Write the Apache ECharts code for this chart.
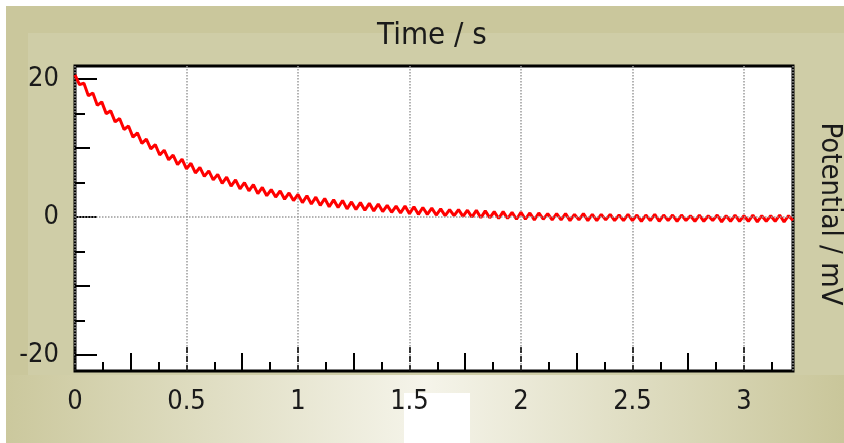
<!DOCTYPE html>
<html>
<head>
<meta charset="utf-8">
<style>
  html, body { margin: 0; padding: 0; background: #fff; }
  #chart { width: 844px; height: 443px; }
</style>
<script src="https://cdn.jsdelivr.net/npm/echarts@6/dist/echarts.min.js"></script>
</head>
<body>
<div id="chart"></div>
<script>
// sampled signal, one value every 0.02 s starting at t = 0
var sampleStep = 0.02;
var potential = [
  20.6, 19.2, 19.4, 17.6, 18.0, 16.2, 16.7, 15.0, 15.4, 13.8,
  14.3, 12.7, 13.2, 11.6, 12.2, 10.7, 11.3, 9.9, 10.5, 9.0,
  9.7, 8.3, 9.0, 7.6, 8.4, 7.0, 7.8, 6.4, 7.2, 5.9,
  6.7, 5.4, 6.2, 4.9, 5.8, 4.5, 5.4, 4.1, 5.0, 3.8,
  4.7, 3.4, 4.3, 3.1, 4.0, 2.9, 3.8, 2.6, 3.5, 2.4,
  3.3, 2.1, 3.1, 1.9, 2.9, 1.7, 2.7, 1.5, 2.5, 1.4,
  2.4, 1.2, 2.2, 1.1, 2.1, 1.0, 2.0, 0.9, 1.9, 0.8,
  1.7, 0.7, 1.6, 0.6, 1.6, 0.5, 1.5, 0.4, 1.4, 0.4,
  1.3, 0.3, 1.2, 0.2, 1.1, 0.2, 1.1, 0.1, 1.0, 0.0,
  1.0, -0.1, 0.9, -0.1, 0.8, -0.2, 0.8, -0.2, 0.7, -0.3,
  0.7, -0.3, 0.6, -0.4, 0.6, -0.3, 0.5, -0.4, 0.5, -0.4,
  0.5, -0.5, 0.4, -0.4, 0.5, -0.5, 0.4, -0.5, 0.4, -0.4,
  0.4, -0.5, 0.3, -0.5, 0.4, -0.5, 0.3, -0.6, 0.3, -0.5,
  0.4, -0.6, 0.3, -0.5, 0.3, -0.6, 0.3, -0.5, 0.2, -0.6,
  0.3, -0.6, 0.2, -0.5, 0.3, -0.7, 0.2, -0.6, 0.3, -0.6,
  0.2, -0.6, 0.3, -0.7, 0.2, -0.6, 0.2, -0.6, 0.3, -0.7,
  0.2, -0.5
];

var xQuarterTicks = [0.25, 0.75, 1.25, 1.75, 2.25, 2.75];
var xEighthTicks = [0.125, 0.375, 0.625, 0.875, 1.125, 1.375, 1.625, 1.875,
                    2.125, 2.375, 2.625, 2.875, 3.125];
var yLabelTicks = [-20, 0, 20];
var yTenTicks = [-10, 10];
var yFiveTicks = [-15, -5, 5, 15];

var seriesData = [];
potential.forEach(function (v, i) {
  seriesData.push([+(i * sampleStep).toFixed(2), v]);
});

var olive = '#cac79c';
var font = '"Liberation Sans Narrow", "DejaVu Sans Condensed", "Liberation Sans", sans-serif';
var xMin = 0, xMax = 3.22, yMin = -22.3, yMax = 21.9;

function xAx(extra) {
  return Object.assign({
    type: 'value', position: 'bottom', min: xMin, max: xMax,
    axisLine: { show: false, onZero: false }, splitLine: { show: false },
    axisLabel: { show: false }
  }, extra);
}
function yAx(extra) {
  return Object.assign({
    type: 'value', position: 'left', min: yMin, max: yMax,
    axisLine: { show: false, onZero: false }, splitLine: { show: false },
    axisLabel: { show: false }
  }, extra);
}

var chart = echarts.init(document.getElementById('chart'));
chart.setOption({
  backgroundColor: olive,
  animation: false,
  graphic: [
    { type: 'rect', z: -10, shape: { x: 0, y: 0, width: 844, height: 6 }, style: { fill: '#ffffff' } },
    { type: 'rect', z: -10, shape: { x: 0, y: 0, width: 6, height: 443 }, style: { fill: '#ffffff' } },
    { type: 'rect', z: -9, shape: { x: 28, y: 33, width: 816, height: 342 }, style: { fill: '#cfcda7' } },
    {
      type: 'rect', z: -9, shape: { x: 6, y: 375, width: 838, height: 68 },
      style: {
        fill: new echarts.graphic.LinearGradient(0, 0, 1, 0, [
          { offset: 0, color: '#cbc89d' },
          { offset: 0.5, color: '#f5f4ea' },
          { offset: 1, color: '#c9c69a' }
        ])
      }
    },
    { type: 'rect', z: -8, shape: { x: 404, y: 393, width: 66, height: 50 }, style: { fill: '#ffffff' } },
    {
      type: 'text', x: 432, y: 36,
      style: { text: 'Time / s', font: '31px ' + font, fill: '#1a1a1a',
        align: 'center', verticalAlign: 'middle' }
    },
    {
      type: 'text', x: 830, y: 214, rotation: -Math.PI / 2,
      style: {
        text: 'Potential / mV', font: '29px ' + font, fill: '#1a1a1a',
        align: 'center', verticalAlign: 'middle'
      }
    }
  ],
  grid: {
    left: 75, right: 51, top: 66, bottom: 72,
    show: true, backgroundColor: '#ffffff', borderColor: '#000000', borderWidth: 3
  },
  xAxis: [
    xAx({
      interval: 0.5,
      axisLabel: { show: true, margin: 17, fontFamily: font, fontSize: 27, color: '#1a1a1a',
        showMaxLabel: false },
      axisTick: { show: true, inside: true, length: 24, lineStyle: { color: '#000', type: 'dashed', width: 1.5 } },
      splitLine: { show: true, lineStyle: { color: '#9a9a9a', type: 'dotted', width: 1.5 } }
    }),
    xAx({ axisTick: { show: true, inside: true, length: 18, customValues: xQuarterTicks,
      lineStyle: { color: '#000', width: 2 } } }),
    xAx({ axisTick: { show: true, inside: true, length: 9, customValues: xEighthTicks,
      lineStyle: { color: '#000', width: 2 } } })
  ],
  yAxis: [
    yAx({
      axisLabel: { show: true, customValues: yLabelTicks, margin: 16, fontFamily: font, fontSize: 27, color: '#1a1a1a' },
      axisTick: { show: true, inside: true, length: 22, customValues: yLabelTicks, lineStyle: { color: '#000', width: 2 } }
    }),
    yAx({ axisTick: { show: true, inside: true, length: 15, customValues: yTenTicks,
      lineStyle: { color: '#000', width: 2 } } }),
    yAx({ axisTick: { show: true, inside: true, length: 10, customValues: yFiveTicks,
      lineStyle: { color: '#000', width: 2 } } })
  ],
  series: [{
    type: 'line',
    xAxisIndex: 0,
    yAxisIndex: 0,
    data: seriesData,
    showSymbol: false,
    clip: true,
    lineStyle: { color: '#ff0000', width: 3 },
    itemStyle: { color: '#ff0000' },
    markLine: {
      silent: true, symbol: 'none', label: { show: false },
      lineStyle: { color: '#9a9a9a', type: 'dotted', width: 1.5 },
      data: [{ yAxis: 0 }]
    }
  }]
});
</script>
</body>
</html>
